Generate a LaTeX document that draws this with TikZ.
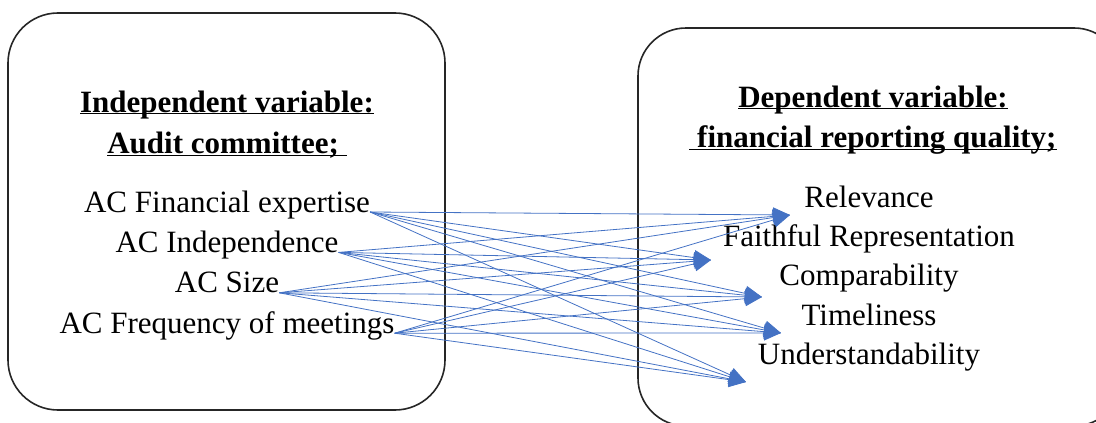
\documentclass[tikz,border=0pt]{standalone}
\usepackage{fontspec}
\setmainfont{Liberation Serif}
\usepackage{xcolor}
\usetikzlibrary{arrows.meta, positioning}
\definecolor{linkblue}{HTML}{4472C4}
\newcommand{\headul}[1]{\underline{\smash{#1}}}
\tikzset{
  panel/.style={
    rectangle, rounded corners=50pt, draw=black!85, line width=1.6pt
  },
  heading/.style={
    font=\fontsize{31}{36}\selectfont\bfseries, inner sep=0pt,
    text height=22pt, text depth=8pt
  },
  item/.style={
    font=\fontsize{31}{36}\selectfont, inner sep=0pt,
    text height=22pt, text depth=8pt
  },
  link/.style={-{Triangle[length=17pt,width=15pt]}, line width=0.8pt, draw=linkblue}
}

\begin{document}
\begin{tikzpicture}[x=1pt, y=-1pt, node distance=10pt]

\useasboundingbox (0,0) rectangle (1096,423);
\clip (0,0) rectangle (1096,423);

% the two panels
\draw[panel] (8,13) rectangle (445,410);
\draw[panel, rounded corners=48pt] (638,28) rectangle (1122,426);

% independent side
\node[heading, anchor=base] (ivhead) at (227,112) {\headul{Independent variable:}};
\node[heading, below=11pt of ivhead] (ivsub) {\headul{Audit committee;\ }};
\node[item, anchor=base] (fin) at (227,212) {AC Financial expertise};
\node[item, below=of fin] (ind) {AC Independence};
\node[item, below=of ind] (siz) {AC Size};
\node[item, below=of siz] (frq) {AC Frequency of meetings};

% dependent side
\node[heading, anchor=base] (dvhead) at (873,107) {\headul{Dependent variable:}};
\node[heading, below=10pt of dvhead] (dvsub) {\headul{\ financial reporting quality;}};
\node[item, anchor=base] (rel) at (869,207) {Relevance};
\node[item, below=9pt of rel] (fai) {Faithful Representation};
\node[item, below=9pt of fai] (com) {Comparability};
\node[item, below=9pt of com] (tim) {Timeliness};
\node[item, below=9pt of tim] (und) {Understandability};

% arrow tips
\coordinate (toRel) at (790,215);
\coordinate (toFai) at (711,260);
\coordinate (toCom) at (762,297);
\coordinate (toTim) at (781,333);
\coordinate (toUnd) at (746,382);

% every AC attribute to every quality
\foreach \src in {fin,ind,siz,frq} {
  \foreach \dst in {toRel,toFai,toCom,toTim,toUnd} {
    \draw[link] (\src.base east) -- (\dst);
  }
}

\end{tikzpicture}
\end{document}
